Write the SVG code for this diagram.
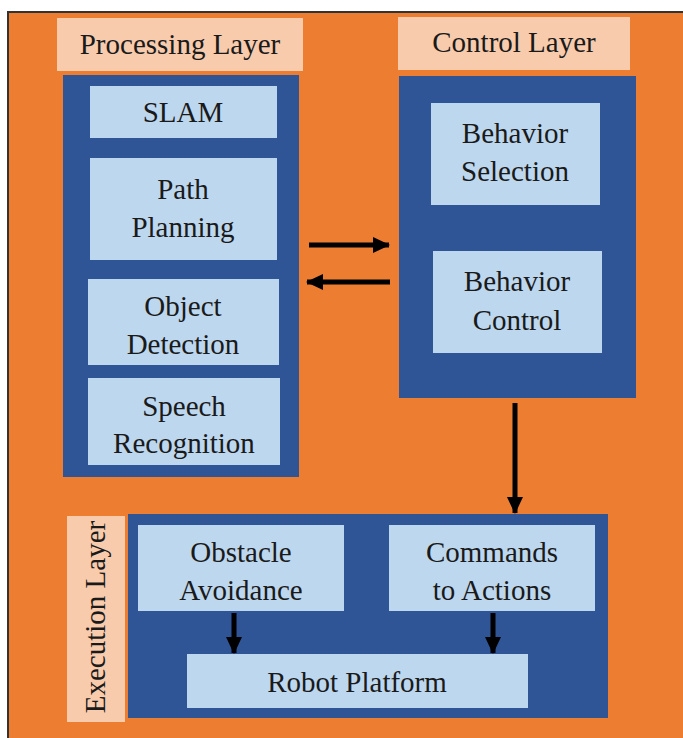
<svg xmlns="http://www.w3.org/2000/svg" width="683" height="738" viewBox="0 0 683 738">
<style>
.lbl{fill:#F8CBAD}
.outer{fill:#2F5597}
.inner{fill:#BDD7EE}
text{font-family:'Liberation Serif','DejaVu Serif','Noto Serif',serif;font-size:29px;fill:#1a1a1a;text-anchor:middle}
.conn{stroke:#000;stroke-width:5;fill:none}
</style>
<defs>
<marker id="ah" markerUnits="userSpaceOnUse" markerWidth="18" markerHeight="18" viewBox="0 0 18 18" refX="16" refY="9" orient="auto">
<path d="M0,1 L17,9 L0,17 Z" fill="#000"/>
</marker>
</defs>
<rect x="0" y="0" width="683" height="738" fill="#fff"/>
<rect x="8" y="12" width="690" height="740" fill="#ED7D31" stroke="#333" stroke-width="2"/>

<g id="processing-layer">
<rect class="lbl" x="57" y="18" width="246" height="53"/>
<text x="180" y="54">Processing Layer</text>
<rect class="outer" x="63" y="75" width="236" height="402"/>
</g>
<g id="slam"><rect class="inner" x="90" y="86" width="187" height="52"/><text x="183" y="122">SLAM</text></g>
<g id="path-planning"><rect class="inner" x="90" y="158" width="187" height="102"/><text x="183" y="199">Path</text><text x="183" y="237">Planning</text></g>
<g id="object-detection"><rect class="inner" x="88" y="279" width="191" height="86"/><text x="183" y="316">Object</text><text x="183" y="354">Detection</text></g>
<g id="speech-recognition"><rect class="inner" x="88" y="378" width="192" height="87"/><text x="184" y="416">Speech</text><text x="184" y="453">Recognition</text></g>

<g id="control-layer">
<rect class="lbl" x="398" y="17" width="232" height="53"/>
<text x="514" y="52">Control Layer</text>
<rect class="outer" x="399" y="76" width="237" height="322"/>
</g>
<g id="behavior-selection"><rect class="inner" x="431" y="103" width="169" height="102"/><text x="515" y="143">Behavior</text><text x="515" y="181">Selection</text></g>
<g id="behavior-control"><rect class="inner" x="433" y="251" width="169" height="102"/><text x="517" y="291">Behavior</text><text x="517" y="330">Control</text></g>

<g id="execution-layer">
<rect class="lbl" x="67" y="516" width="58" height="206"/>
<text transform="translate(105,617) rotate(-90)">Execution Layer</text>
<rect class="outer" x="128" y="514" width="480" height="204"/>
</g>
<g id="obstacle-avoidance"><rect class="inner" x="138" y="525" width="206" height="86"/><text x="241" y="562">Obstacle</text><text x="241" y="600">Avoidance</text></g>
<g id="commands-to-actions"><rect class="inner" x="389" y="525" width="206" height="86"/><text x="492" y="562">Commands</text><text x="492" y="600">to Actions</text></g>
<g id="robot-platform"><rect class="inner" x="187" y="654" width="341" height="54"/><text x="357" y="692">Robot Platform</text></g>

<g id="connectors">
<line class="conn" x1="309" y1="245" x2="389" y2="245" marker-end="url(#ah)"/>
<line class="conn" x1="390" y1="282" x2="307" y2="282" marker-end="url(#ah)"/>
<line class="conn" x1="515" y1="403" x2="515" y2="513" marker-end="url(#ah)"/>
<line class="conn" x1="234" y1="613" x2="234" y2="653" marker-end="url(#ah)"/>
<line class="conn" x1="493" y1="613" x2="493" y2="653" marker-end="url(#ah)"/>
</g>
</svg>
